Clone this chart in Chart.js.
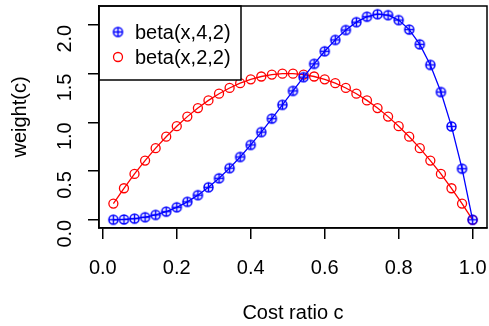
<!DOCTYPE html>
<html>
<head>
<meta charset="utf-8">
<script src="https://cdn.jsdelivr.net/npm/chart.js@4/dist/chart.umd.min.js"></script>
<style>
  html, body { margin: 0; padding: 0; background: #fff; }
  #wrap { width: 489px; height: 326px; }
</style>
</head>
<body>
<div id="wrap"><canvas id="chartBeta"></canvas></div>
<script>
// data -------------------------------------------------------------
const costRatio = [0.02857, 0.05714, 0.08571, 0.11429, 0.14286, 0.17143, 0.2, 0.22857, 0.25714, 0.28571,
  0.31429, 0.34286, 0.37143, 0.4, 0.42857, 0.45714, 0.48571, 0.51429, 0.54286, 0.57143,
  0.6, 0.62857, 0.65714, 0.68571, 0.71429, 0.74286, 0.77143, 0.8, 0.82857, 0.85714,
  0.88571, 0.91429, 0.94286, 0.97143, 1.0];
const beta42 = [0.0005, 0.0035, 0.0115, 0.0264, 0.0500, 0.0835, 0.1280, 0.1842, 0.2526, 0.3332,
  0.4257, 0.5297, 0.6442, 0.7680, 0.8996, 1.0372, 1.1786, 1.3214, 1.4626, 1.5993,
  1.7280, 1.8449, 1.9459, 2.0267, 2.0825, 2.1082, 2.0986, 2.0480, 1.9503, 1.7993,
  1.5882, 1.3102, 0.9579, 0.5238, 0.0];
const beta22 = [0.1665, 0.3233, 0.4702, 0.6073, 0.7347, 0.8522, 0.9600, 1.0580, 1.1461, 1.2245,
  1.2931, 1.3518, 1.4008, 1.4400, 1.4694, 1.4890, 1.4988, 1.4988, 1.4890, 1.4694,
  1.4400, 1.4008, 1.3518, 1.2931, 1.2245, 1.1461, 1.0580, 0.9600, 0.8522, 0.7347,
  0.6073, 0.4702, 0.3233, 0.1665, 0.0];
const xTicks = [0, 0.2, 0.4, 0.6, 0.8, 1.0];
const yTicks = [0, 0.5, 1.0, 1.5, 2.0];
const seriesNames = ['beta(x,4,2)', 'beta(x,2,2)'];

const FONT = '"Liberation Sans", Arial, sans-serif';

// circle with plus (R pch=10)
function plusCircle(color) {
    const c = document.createElement('canvas');
    c.width = 13; c.height = 13;
    const g = c.getContext('2d');
    g.strokeStyle = color;
    g.lineWidth = 1.5;
    g.beginPath(); g.arc(6.5, 6.5, 4.5, 0, Math.PI * 2); g.stroke();
    g.beginPath();
    g.moveTo(2, 6.5); g.lineTo(11, 6.5);
    g.moveTo(6.5, 2); g.lineTo(6.5, 11);
    g.stroke();
    return c;
}
const bluePoint = plusCircle('#0000ff');

// frame + legend ---------------------------------------------------
const frameAndLegend = {
    id: 'frameAndLegend',
    afterDatasetsDraw(chart) {
        const ctx = chart.ctx, a = chart.chartArea;
        ctx.save();
        // legend box top-left
        const lx = a.left, ly = a.top, lw = 142, lh = 74;
        ctx.fillStyle = '#fff';
        ctx.fillRect(lx, ly, lw, lh);
        ctx.strokeStyle = '#000';
        ctx.lineWidth = 1.5;
        ctx.strokeRect(lx, ly, lw, lh);
        ctx.font = '20px ' + FONT;
        ctx.textBaseline = 'middle';
        ctx.fillStyle = '#000';
        chart.data.datasets.forEach((ds, i) => {
            const cy = ly + 26 + i * 25;
            const cx = lx + 19;
            if (i === 0) {
                ctx.drawImage(bluePoint, cx - 6.5, cy - 6.5);
            } else {
                ctx.beginPath();
                ctx.strokeStyle = ds.borderColor;
                ctx.lineWidth = 1.3;
                ctx.arc(cx, cy, 4.5, 0, Math.PI * 2);
                ctx.stroke();
            }
            ctx.fillStyle = '#000';
            ctx.fillText(ds.label, lx + 36, cy + 1);
        });
        // plot box
        ctx.strokeStyle = '#000';
        ctx.lineWidth = 1.5;
        ctx.strokeRect(a.left, a.top, a.right - a.left, a.bottom - a.top);
        ctx.restore();
    }
};

function chartBeta() {
    const dataBeta = {
        datasets: [{
            label: seriesNames[0],
            data: costRatio.map((x, i) => ({ x: x, y: beta42[i] })),
            borderColor: '#0000ff',
            borderWidth: 1.3,
            pointStyle: bluePoint,
            pointRadius: 5,
            tension: 0
        }, {
            label: seriesNames[1],
            data: costRatio.map((x, i) => ({ x: x, y: beta22[i] })),
            borderColor: '#ff0000',
            borderWidth: 1.3,
            pointStyle: 'circle',
            pointRadius: 4.5,
            pointBorderWidth: 1.3,
            pointBorderColor: '#ff0000',
            pointBackgroundColor: 'rgba(0,0,0,0)',
            tension: 0
        }]
    };

    const configBeta = {
        type: 'line',
        data: dataBeta,
        options: {
            responsive: true,
            maintainAspectRatio: false,
            animation: false,
            devicePixelRatio: 1,
            layout: { autoPadding: false, padding: { top: 6, right: 2, left: 0, bottom: 0 } },
            plugins: { legend: { display: false }, tooltip: { enabled: false } },
            scales: {
                x: {
                    type: 'linear',
                    min: -0.0103,
                    max: 1.0389,
                    afterBuildTicks: s => { s.ticks = xTicks.map(v => ({ value: v })); },
                    afterFit: s => { s.height = 98; s.paddingLeft = 0; s.paddingRight = 0; },
                    ticks: {
                        color: '#000',
                        font: { family: FONT, size: 20 },
                        padding: 17,
                        maxRotation: 0,
                        callback: v => v.toFixed(1)
                    },
                    grid: { drawOnChartArea: false, color: '#000', lineWidth: 1.5, tickLength: 11 },
                    border: { display: true, color: '#000', width: 1.5 },
                    title: {
                        display: true,
                        text: 'Cost ratio c',
                        color: '#000',
                        font: { family: FONT, size: 20 },
                        padding: { top: 0, bottom: 1 }
                    }
                },
                y: {
                    type: 'linear',
                    min: -0.0843,
                    max: 2.1925,
                    afterBuildTicks: s => { s.ticks = yTicks.map(v => ({ value: v })); },
                    afterFit: s => { s.width = 99; s.paddingTop = 0; s.paddingBottom = 0; },
                    ticks: {
                        color: '#000',
                        font: { family: FONT, size: 20 },
                        padding: 23,
                        minRotation: 90,
                        maxRotation: 90,
                        callback: v => v.toFixed(1)
                    },
                    grid: { drawOnChartArea: false, color: '#000', lineWidth: 1.5, tickLength: 11 },
                    border: { display: true, color: '#000', width: 1.5 },
                    title: {
                        display: true,
                        text: 'weight(c)',
                        color: '#000',
                        font: { family: FONT, size: 20 },
                        padding: { top: 8, bottom: 0 }
                    }
                }
            }
        },
        plugins: [frameAndLegend]
    };

    const myChartBeta = new Chart(
        document.getElementById('chartBeta'),
        configBeta
    );
}

chartBeta();
</script>
</body>
</html>
